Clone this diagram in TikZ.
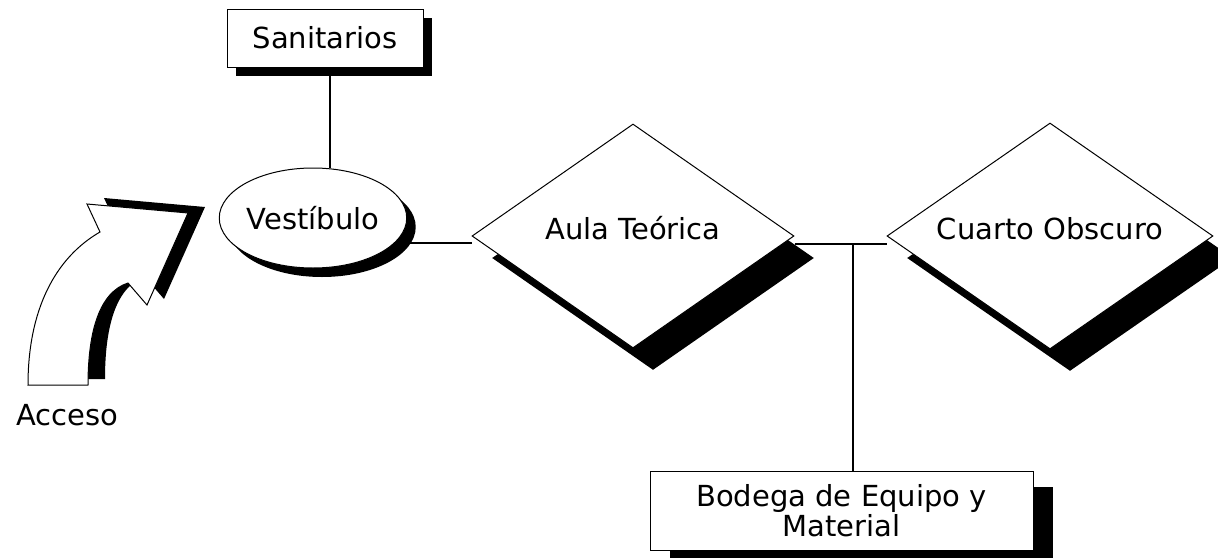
\documentclass[tikz,border=0pt]{standalone}
\usepackage{fontspec}
\setmainfont{DejaVu Sans}
\usetikzlibrary{shapes.geometric,shadows,backgrounds,calc}
\begin{document}
\begin{tikzpicture}[x=1pt,y=-1pt,
  every node/.style={font=\fontsize{29}{30}\selectfont},
  box/.style={draw, line width=1pt, fill=white, inner sep=0pt},
  rbox/.style={box, rectangle},
  ebox/.style={box, ellipse},
  dbox/.style={box, diamond, aspect=1.44, text depth=16pt},
  shsmall/.style={drop shadow={shadow xshift=9pt, shadow yshift=-9pt, fill=black, opacity=1}},
  shbig/.style={drop shadow={shadow xshift=20pt, shadow yshift=-22pt, fill=black, opacity=1}},
  shbox/.style={drop shadow={shadow xshift=20pt, shadow yshift=-16pt, fill=black, opacity=1}},
  link/.style={line width=1.6pt}
]
\useasboundingbox (0,0) rectangle (1218,557);

\node[rbox, shsmall, minimum width=196pt, minimum height=58pt] (san) at (325,38) {Sanitarios};
\node[ebox, shsmall, minimum width=174pt, minimum height=100pt] (vest) at (313,218) {Vestíbulo};
\node[dbox, shbig, minimum width=322pt, minimum height=224pt] (aula) at (633,236) {Aula Teórica};
\node[dbox, shbig, minimum width=326pt, minimum height=226pt] (cuarto) at (1050,236) {Cuarto Obscuro};
\node[rbox, shbox, minimum width=383pt, minimum height=79pt, align=center] (bod) at (841.5,510.5) {Bodega de Equipo y\\Material};
\node (acc) at (67,415) {Acceso};

\coordinate (j) at (853,244);

\begin{scope}[on background layer]
\fill[white] (0,0) rectangle (1218,557);
\draw[link] ([xshift=5pt]san.south) -- ([xshift=5pt]san.south |- vest.north);
\draw[link] ([yshift=-25pt]vest.east) -- ([yshift=-7pt]aula.west);
\draw[link] ([yshift=-8pt]aula.east) -- ([yshift=-8pt]cuarto.west);
\draw[link] (j) -- (j |- bod.north);
\end{scope}

% access arrow with shadow
\fill[black, shift={(17,-6)}] (28,385) -- (88,385) .. controls (88,330) and (100,292) .. (128,283) -- (147,305) -- (188,213) -- (87,204) -- (100,232) .. controls (55,258) and (28,310) .. (28,385) -- cycle;
\draw[line width=1pt, fill=white] (28,385) -- (88,385) .. controls (88,330) and (100,292) .. (128,283) -- (147,305) -- (188,213) -- (87,204) -- (100,232) .. controls (55,258) and (28,310) .. (28,385) -- cycle;
\end{tikzpicture}
\end{document}
